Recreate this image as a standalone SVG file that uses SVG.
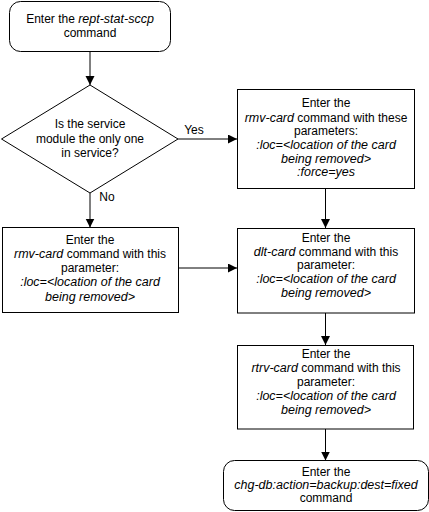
<svg xmlns="http://www.w3.org/2000/svg" width="429" height="512" viewBox="0 0 429 512">
<defs>
<style>
.b{fill:#fff;stroke:#000;stroke-width:1}
.c{fill:none;stroke:#000;stroke-width:1}
text{font-family:"Liberation Sans",Arial,sans-serif;font-size:12px;fill:#000;text-anchor:middle}
.i{font-style:italic;font-size:12.5px}
</style>
<marker id="ah" markerWidth="10" markerHeight="10" refX="9" refY="4.5" orient="auto" markerUnits="userSpaceOnUse">
<path d="M0,0 L9,4.5 L0,9 Z" fill="#000"/>
</marker>
</defs>
<rect width="429" height="512" fill="#fff"/>
<g id="connectors">
<line class="c" x1="90" y1="51.5" x2="90" y2="85" marker-end="url(#ah)"/>
<line class="c" x1="178" y1="139" x2="237" y2="139" marker-end="url(#ah)"/>
<line class="c" x1="90" y1="193" x2="90" y2="227.5" marker-end="url(#ah)"/>
<line class="c" x1="325.5" y1="188.5" x2="325.5" y2="228" marker-end="url(#ah)"/>
<line class="c" x1="178" y1="268" x2="237" y2="268" marker-end="url(#ah)"/>
<line class="c" x1="325.5" y1="313" x2="325.5" y2="345" marker-end="url(#ah)"/>
<line class="c" x1="325.5" y1="429" x2="325.5" y2="460.5" marker-end="url(#ah)"/>
<text x="194" y="134">Yes</text>
<text x="107" y="201">No</text>
</g>
<g id="start">
<rect class="b" x="9.5" y="1.5" width="161" height="50" rx="11"/>
<text x="90" y="22.5">Enter the <tspan class="i">rept-stat-sccp</tspan></text>
<text x="90" y="36.5">command</text>
</g>
<g id="decision">
<polygon class="b" points="90,85 178,139 90,193 1.5,139"/>
<text x="90" y="128">Is the service</text>
<text x="90" y="142.5">module the only one</text>
<text x="90" y="157">in service?</text>
</g>
<g id="rmv-force">
<rect class="b" x="237.5" y="89.5" width="177" height="99"/>
<text x="326" y="107">Enter the</text>
<text x="326" y="121.5"><tspan class="i">rmv-card</tspan> command with these</text>
<text x="326" y="135">parameters:</text>
<text x="326" y="149" class="i">:loc=&lt;location of the card</text>
<text x="326" y="162.5" class="i">being removed&gt;</text>
<text x="326" y="176" class="i">:force=yes</text>
</g>
<g id="rmv">
<rect class="b" x="2.5" y="227.5" width="176" height="85"/>
<text x="90" y="244">Enter the</text>
<text x="90" y="258"><tspan class="i">rmv-card</tspan> command with this</text>
<text x="90" y="272">parameter:</text>
<text x="90" y="286" class="i">:loc=&lt;location of the card</text>
<text x="90" y="300.5" class="i">being removed&gt;</text>
</g>
<g id="dlt">
<rect class="b" x="237.5" y="228.5" width="177" height="84.5"/>
<text x="326" y="241.5">Enter the</text>
<text x="326" y="255.5"><tspan class="i">dlt-card</tspan> command with this</text>
<text x="326" y="269">parameter:</text>
<text x="326" y="283" class="i">:loc=&lt;location of the card</text>
<text x="326" y="297" class="i">being removed&gt;</text>
</g>
<g id="rtrv">
<rect class="b" x="237.5" y="345.5" width="176" height="83.5"/>
<text x="326" y="357.5">Enter the</text>
<text x="326" y="372"><tspan class="i">rtrv-card</tspan> command with this</text>
<text x="326" y="386">parameter:</text>
<text x="326" y="400" class="i">:loc=&lt;location of the card</text>
<text x="326" y="414" class="i">being removed&gt;</text>
</g>
<g id="end">
<rect class="b" x="223.5" y="460.5" width="205" height="50" rx="11"/>
<text x="326" y="475.5">Enter the</text>
<text x="326" y="488.5" class="i">chg-db:action=backup:dest=fixed</text>
<text x="326" y="501.5">command</text>
</g>
</svg>
